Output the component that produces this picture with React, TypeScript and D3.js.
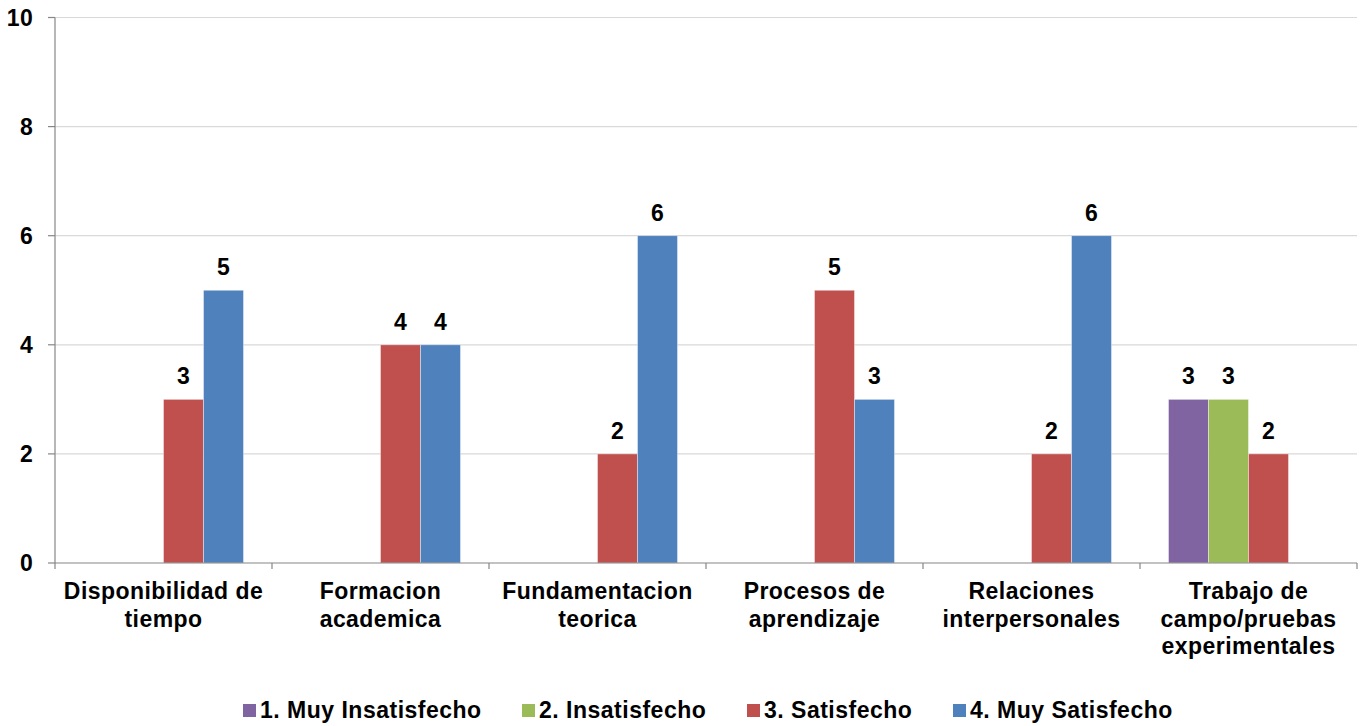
import React from "react";
import * as d3 from "d3";

const categories = [
  ["Disponibilidad de", "tiempo"],
  ["Formacion", "academica"],
  ["Fundamentacion", "teorica"],
  ["Procesos de", "aprendizaje"],
  ["Relaciones", "interpersonales"],
  ["Trabajo de", "campo/pruebas", "experimentales"],
];
const seriesNames = ["1. Muy Insatisfecho", "2. Insatisfecho", "3. Satisfecho", "4. Muy Satisfecho"];
const seriesColors = ["#8064a2", "#9bbb59", "#c0504d", "#4f81bd"];
const muyInsatisfecho = [0, 0, 0, 0, 0, 3];
const insatisfecho = [0, 0, 0, 0, 0, 3];
const satisfecho = [3, 4, 2, 5, 2, 2];
const muySatisfecho = [5, 4, 6, 3, 6, 0];
const yTicks = [0, 2, 4, 6, 8, 10];

const W = 1360, H = 726;
const left = 55, right = 1357, top = 17.5, bottom = 563;
const FONT = "'Liberation Sans', Arial, sans-serif";

export default function App() {
  const keys = categories.map((c) => c.join(" "));
  const values = [muyInsatisfecho, insatisfecho, satisfecho, muySatisfecho];
  const x0 = d3.scaleBand<string>().domain(keys).range([left, right]).padding(0);
  const bw = x0.bandwidth();
  const barW = 40;
  const outer = (bw / barW - 4) / 2;
  const x1 = d3.scaleBand<string>().domain(seriesNames).range([0, bw]).paddingInner(0).paddingOuter(outer);
  const y = d3.scaleLinear().domain([0, 10]).range([bottom, top]);
  const legendX = [243, 522, 747, 953];

  return (
    <svg width={W} height={H} style={{ position: "absolute", left: 0, top: 0, background: "#fff" }} fontFamily={FONT}>
      {yTicks.map((t) => (
        <g key={t}>
          {t > 0 && <line x1={left} x2={right} y1={y(t)} y2={y(t)} stroke="#d9d9d9" strokeWidth={1.2} />}
          <line x1={left - 7} x2={left} y1={y(t)} y2={y(t)} stroke="#868686" strokeWidth={1.2} />
          <text x={33} y={y(t)} dy="0.36em" textAnchor="end" fontWeight="bold" fontSize={23} letterSpacing={0.3}>{t}</text>
        </g>
      ))}
      {keys.map((k, ci) => (
        <g key={k}>
          {seriesNames.map((s, si) => {
            const v = values[si][ci];
            const bx = (x0(k) as number) + (x1(s) as number);
            return (
              <g key={s}>
                <rect x={bx} y={y(v)} width={x1.bandwidth()} height={bottom - y(v)} fill={seriesColors[si]} stroke="#ffffff" strokeOpacity={0.5} strokeWidth={0.8} />
                {v > 0 && (
                  <text x={bx + x1.bandwidth() / 2} y={y(v) - 15} textAnchor="middle" fontWeight="bold" fontSize={23}>{v}</text>
                )}
              </g>
            );
          })}
          {categories[ci].map((line, li) => (
            <text key={li} x={(x0(k) as number) + bw / 2} y={599 + li * 27.5} textAnchor="middle" fontWeight="bold" fontSize={23} letterSpacing={0.45}>{line}</text>
          ))}
        </g>
      ))}
      <line x1={left} x2={left} y1={top} y2={bottom} stroke="#868686" strokeWidth={1.2} />
      <line x1={left} x2={right} y1={bottom} y2={bottom} stroke="#868686" strokeWidth={1.2} />
      {[...keys.map((k) => x0(k) as number), right].map((tx, i) => (
        <line key={i} x1={tx} x2={tx} y1={bottom} y2={bottom + 6} stroke="#868686" strokeWidth={1.2} />
      ))}
      {seriesNames.map((s, i) => (
        <g key={s}>
          <rect x={legendX[i]} y={704} width={13} height={13} fill={seriesColors[i]} />
          <text x={legendX[i] + 17} y={717.5} fontWeight="bold" fontSize={23} letterSpacing={0.5}>{s}</text>
        </g>
      ))}
    </svg>
  );
}
